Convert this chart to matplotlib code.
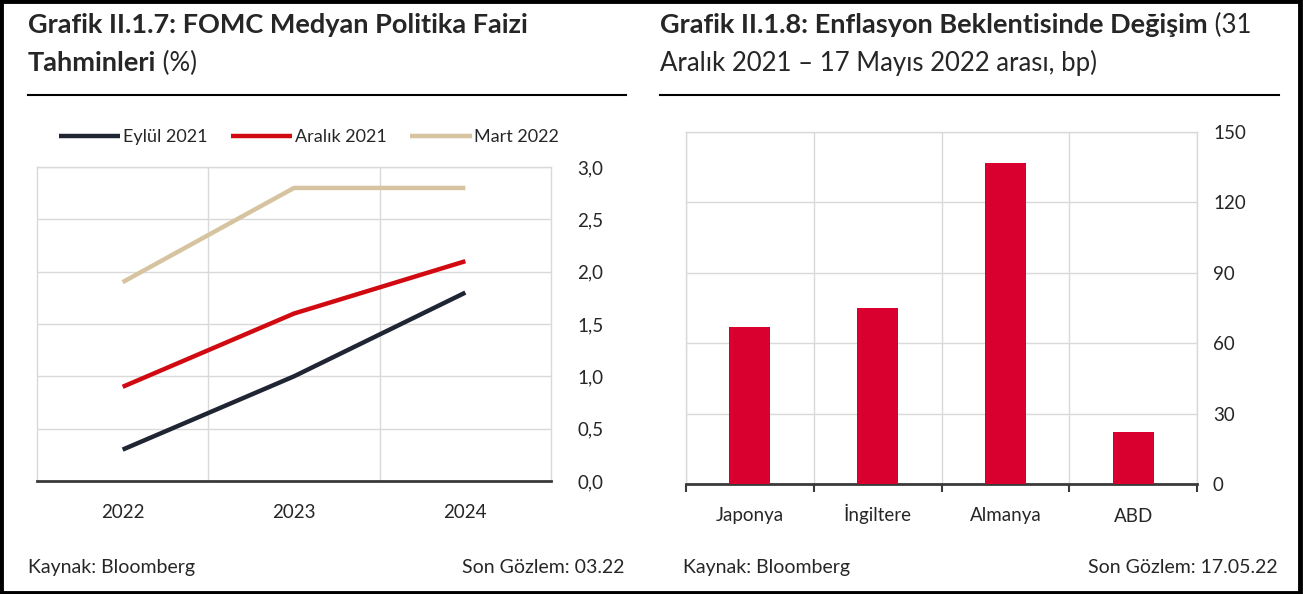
import matplotlib
matplotlib.use('Agg')
import matplotlib.pyplot as plt
import matplotlib.ticker as ticker
from matplotlib.patches import Rectangle
from matplotlib.lines import Line2D

plt.rcParams['font.family'] = ['Lato', 'DejaVu Sans']

# left chart data: FOMC median policy rate projections (%)
years = ['2022', '2023', '2024']
eylul_2021 = [0.3, 1.0, 1.8]
aralik_2021 = [0.9, 1.6, 2.1]
mart_2022 = [1.9, 2.8, 2.8]
left_yticks = [0.0, 0.5, 1.0, 1.5, 2.0, 2.5, 3.0]

# right chart data: change in inflation expectations (bp)
countries = ['Japonya', 'İngiltere', 'Almanya', 'ABD']
change_bp = [67, 75, 137, 22]
right_yticks = [0, 30, 60, 90, 120, 150]

W, H = 1303, 594
fig = plt.figure(figsize=(W/100, H/100), dpi=100)

def fx(px):
    return px/W
def fy(py):
    return 1-py/H

grid_c = '#d9d9d9'
axis_c = '#3a3a3a'
txt_c = '#262626'
tick_fs = 13.5

# ---- left chart
ax = fig.add_axes([fx(37), fy(481), fx(551)-fx(37), fy(167)-fy(481)])
x = range(len(years))
ax.plot(x, eylul_2021, color='#1f2533', lw=3.2, solid_capstyle='butt', label='Eylül 2021')
ax.plot(x, aralik_2021, color='#d10a11', lw=3.2, solid_capstyle='butt', label='Aralık 2021')
ax.plot(x, mart_2022, color='#d6c4a0', lw=3.2, solid_capstyle='butt', label='Mart 2022')
ax.set_xlim(-0.5, 2.5)
ax.set_ylim(0, 3.0)
ax.set_xticks(list(x))
ax.set_xticklabels(years, va='baseline')
ax.set_xticks([0.5, 1.5], minor=True)
ax.set_yticks(left_yticks)
ax.yaxis.set_major_formatter(ticker.FuncFormatter(lambda v, p: ('%.1f' % v).replace('.', ',')))
ax.yaxis.tick_right()
ax.tick_params(axis='y', length=0, pad=19, labelsize=tick_fs, labelcolor=txt_c)
ax.tick_params(axis='x', which='both', length=0, pad=27, labelsize=tick_fs, labelcolor=txt_c)
ax.grid(axis='y', color=grid_c, lw=1)
ax.grid(axis='x', which='minor', color=grid_c, lw=1)
ax.set_axisbelow(True)
for s in ['left', 'right', 'top']:
    ax.spines[s].set_color(grid_c)
    ax.spines[s].set_linewidth(1)
ax.spines['bottom'].set_color(axis_c)
ax.spines['bottom'].set_linewidth(2)

fig.legend(handles=ax.get_lines(), loc='center', bbox_to_anchor=(fx(309), fy(137)), ncol=3,
           frameon=False, fontsize=13, handlelength=3.4, handletextpad=0.15,
           columnspacing=1.3, labelcolor=txt_c)

# ---- right chart
ax2 = fig.add_axes([fx(686), fy(484), fx(1197)-fx(686), fy(132)-fy(484)])
xc = range(len(countries))
ax2.bar(xc, change_bp, width=0.32, color='#d9002f', zorder=3)
ax2.set_xlim(-0.5, 3.5)
ax2.set_ylim(0, 150)
ax2.set_xticks(list(xc))
ax2.set_xticklabels(countries, va='baseline')
ax2.set_xticks([-0.5, 0.5, 1.5, 2.5, 3.5], minor=True)
ax2.set_yticks(right_yticks)
ax2.yaxis.tick_right()
ax2.tick_params(axis='y', length=0, pad=11.5, labelsize=tick_fs, labelcolor=txt_c)
ax2.tick_params(axis='x', which='major', length=0, pad=27, labelsize=tick_fs, labelcolor=txt_c)
ax2.tick_params(axis='x', which='minor', length=6, width=1.5, color=axis_c, direction='out')
ax2.grid(axis='y', color=grid_c, lw=1)
ax2.grid(axis='x', which='minor', color=grid_c, lw=1)
ax2.set_axisbelow(True)
for s in ['left', 'right', 'top']:
    ax2.spines[s].set_color(grid_c)
    ax2.spines[s].set_linewidth(1)
ax2.spines['bottom'].set_color(axis_c)
ax2.spines['bottom'].set_linewidth(2)

# ---- titles (bold part followed by regular part)
renderer = fig.canvas.get_renderer()
bold_fs = 19.5
reg_fs = 18.5

def title_line(x0, y0, bold, regular):
    t = fig.text(fx(x0), fy(y0), bold, fontsize=bold_fs, fontweight='bold', color=txt_c, va='baseline')
    if regular:
        bb = t.get_window_extent(renderer=renderer)
        fig.text(bb.x1/W, fy(y0), regular, fontsize=reg_fs, color=txt_c, va='baseline')

title_line(28, 33, 'Grafik II.1.7: FOMC Medyan Politika Faizi', '')
title_line(28, 71, 'Tahminleri', ' (%)')
title_line(660, 33, 'Grafik II.1.8: Enflasyon Beklentisinde Değişim', ' (31')
fig.text(fx(660), fy(71), 'Aralık 2021 – 17 Mayıs 2022 arası, bp)', fontsize=reg_fs, color=txt_c, va='baseline')

# rules under titles
fig.add_artist(Line2D([fx(28), fx(626)], [fy(95), fy(95)], color='black', lw=1.5))
fig.add_artist(Line2D([fx(660), fx(1279)], [fy(95), fy(95)], color='black', lw=1.5))

# footers
foot_fs = 14
fig.text(fx(28), fy(573), 'Kaynak: Bloomberg', fontsize=foot_fs, color=txt_c, va='baseline')
fig.text(fx(625), fy(573), 'Son Gözlem: 03.22', fontsize=foot_fs, color=txt_c, va='baseline', ha='right')
fig.text(fx(683), fy(573), 'Kaynak: Bloomberg', fontsize=foot_fs, color=txt_c, va='baseline')
fig.text(fx(1278), fy(573), 'Son Gözlem: 17.05.22', fontsize=foot_fs, color=txt_c, va='baseline', ha='right')

# outer frame
fig.add_artist(Rectangle((0.001, 0.002), 0.997, 0.996, transform=fig.transFigure,
                         fill=False, edgecolor='black', lw=3.5))

fig.savefig('out.png', dpi=100)
